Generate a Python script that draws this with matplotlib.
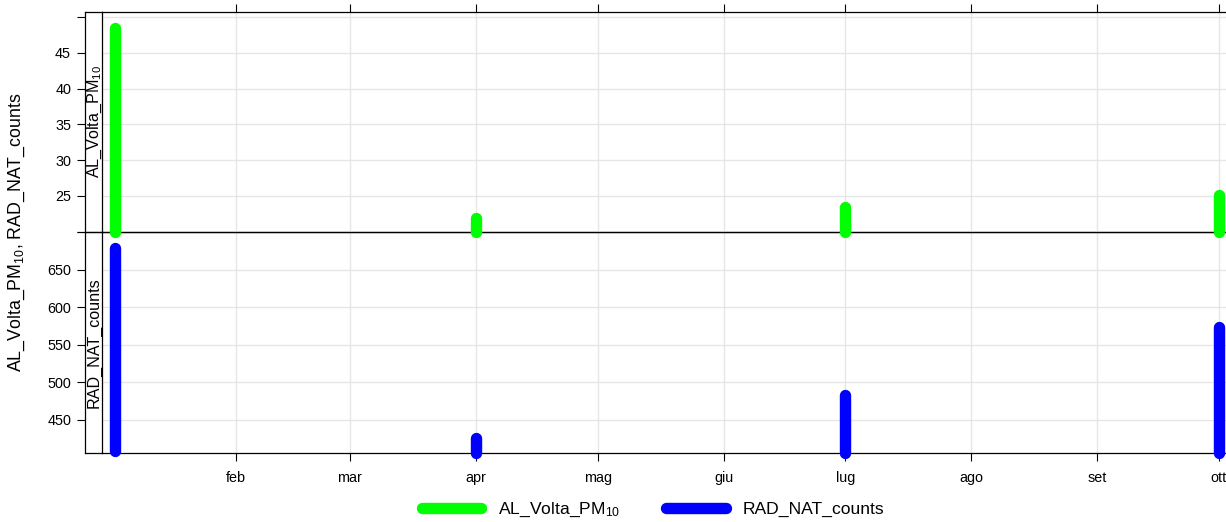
import numpy as np
import pandas as pd
import matplotlib
matplotlib.use("Agg")
import matplotlib.pyplot as plt
from matplotlib.lines import Line2D

plt.rcParams["font.family"] = ["Liberation Sans", "DejaVu Sans"]
plt.rcParams["mathtext.default"] = "regular"

# data: each sampling campaign shows as a vertical run of values (low..high)
dates = pd.to_datetime(["2023-01-02 06:00", "2023-04-01 00:00",
                        "2023-07-01 00:00", "2023-10-01 00:00"])
pm10_low = [20.0, 19.9, 19.9, 19.9]
pm10_high = [48.4, 21.9, 23.5, 25.1]
rad_low = [408, 406, 406, 406]
rad_high = [679, 425, 483, 573]

month_ticks = pd.date_range("2023-02-01", "2023-10-01", freq="MS")
month_labels = ["feb", "mar", "apr", "mag", "giu", "lug", "ago", "set", "ott"]

pm10_label = "AL_Volta_PM$_{10}$"
rad_label = "RAD_NAT_counts"

panels = [
    dict(low=pm10_low, high=pm10_high, color="#00ff00", label=pm10_label,
         ylim=(19.95, 50.7), ticks=[20, 25, 30, 35, 40, 45, 50],
         labels=["", "25", "30", "35", "40", "45", ""]),
    dict(low=rad_low, high=rad_high, color="#0000ff", label=rad_label,
         ylim=(405.4, 698), ticks=[450, 500, 550, 600, 650, 700],
         labels=["450", "500", "550", "600", "650", ""]),
]

W, H = 1226, 522
fig = plt.figure(figsize=(W / 100, H / 100), dpi=100)

x_left, x_right = 102, 1232
strip_left = 85
rows = [(12, 232), (232, 453)]
xlim = (pd.Timestamp("2022-12-29 23:00"), pd.Timestamp("2023-10-04 05:00"))
LW = 8.2

handles = []
for i, (p, (top, bot)) in enumerate(zip(panels, rows)):
    rect = [x_left / W, 1 - bot / H, (x_right - x_left) / W, (bot - top) / H]
    ax = fig.add_axes(rect)
    ax.set_zorder(2 - i)
    ax.patch.set_alpha(0 if i == 0 else 1)
    for d, lo, hi in zip(dates, p["low"], p["high"]):
        ax.plot([d, d], [lo, hi], color=p["color"], lw=LW,
                solid_capstyle="round", zorder=3, clip_on=False)
    handles.append(Line2D([], [], color=p["color"], lw=LW,
                          solid_capstyle="round", label=p["label"]))
    ax.set_xlim(xlim)
    ax.set_ylim(p["ylim"])
    ax.set_yticks(p["ticks"])
    ax.set_xticks(month_ticks)
    ax.grid(True, color="#e6e6e6", lw=1, zorder=0)
    ax.tick_params(axis="y", left=False, labelleft=False)
    if i == 0:
        ax.tick_params(axis="x", top=True, bottom=False, labelbottom=False,
                       direction="out", length=6, width=0.8)
    else:
        ax.set_xticklabels(month_labels)
        ax.tick_params(axis="x", direction="out", length=6, width=0.8,
                       labelsize=10.4, pad=7)
    for s in ax.spines.values():
        s.set_linewidth(0.9)
        s.set_color("black")
    ax.spines["left"].set_visible(False)
    ax.set_axisbelow(True)

    srect = [strip_left / W, 1 - bot / H, (x_left - strip_left) / W, (bot - top) / H]
    sax = fig.add_axes(srect)
    sax.set_zorder(5)
    sax.patch.set_alpha(0)
    sax.set_ylim(p["ylim"])
    sax.set_yticks(p["ticks"])
    sax.set_yticklabels(p["labels"])
    sax.set_xticks([])
    sax.tick_params(axis="y", direction="out", length=6, width=0.8,
                    labelsize=10.4, pad=4)
    for s in sax.spines.values():
        s.set_linewidth(0.9)
    sax.text(0.82, 0.5, p["label"], rotation=90, rotation_mode="anchor",
             ha="center", va="baseline", fontsize=11.6, transform=sax.transAxes)

fig.text(17 / W, 1 - 232 / H, "AL_Volta_PM$_{10}$, RAD_NAT_counts", rotation=90,
         ha="center", va="center", fontsize=12.8)

fig.legend(handles=handles, loc="center", bbox_to_anchor=(653 / W, 1 - 510 / H),
           ncol=2, frameon=False, fontsize=12.6, handlelength=3.4,
           handletextpad=0.97, columnspacing=2.6)

fig.savefig("out.png", dpi=100)
